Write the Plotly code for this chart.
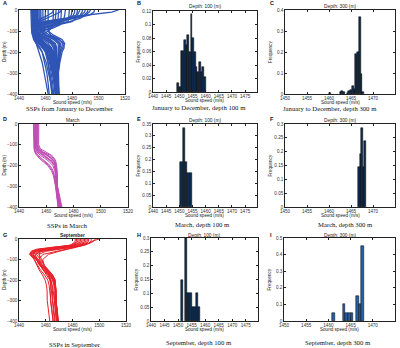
import plotly.graph_objects as go
from plotly.subplots import make_subplots

# ---------------- data ----------------
# Panel A: SSPs January-December
DEPTH_ALL = [0, -10, -25, -40, -55, -70, -85, -100, -120, -140, -160, -180, -200, -250, -300, -350, -400]
SSP_ALL_WINTER = [
    [1449.0, 1449.0, 1449.1, 1449.1, 1449.2, 1449.3, 1449.4, 1449.6, 1450.2, 1451.8, 1454.0, 1456.0, 1457.5, 1459.5, 1461.0, 1462.0, 1462.8],
    [1449.5, 1449.5, 1449.5, 1449.6, 1449.6, 1449.7, 1449.8, 1450.0, 1450.8, 1452.8, 1455.5, 1458.0, 1459.8, 1462.0, 1463.5, 1464.6, 1465.4],
    [1450.2, 1450.2, 1450.2, 1450.3, 1450.3, 1450.4, 1450.5, 1450.7, 1451.5, 1453.5, 1456.5, 1459.0, 1460.8, 1463.0, 1464.5, 1465.5, 1466.2],
    [1450.6, 1450.6, 1450.6, 1450.7, 1450.7, 1450.8, 1450.9, 1451.1, 1452.0, 1454.5, 1458.0, 1461.0, 1462.8, 1464.5, 1465.7, 1466.6, 1467.3],
    [1451.0, 1451.0, 1451.0, 1451.0, 1451.1, 1451.2, 1451.3, 1451.5, 1452.5, 1455.5, 1459.5, 1462.5, 1464.0, 1465.5, 1466.5, 1467.3, 1468.0],
    [1451.4, 1451.4, 1451.4, 1451.4, 1451.5, 1451.6, 1451.7, 1451.9, 1453.0, 1456.5, 1460.8, 1463.5, 1464.8, 1466.0, 1466.9, 1467.6, 1468.3],
    [1451.8, 1451.8, 1451.8, 1451.8, 1451.9, 1452.0, 1452.1, 1452.3, 1453.5, 1457.5, 1462.0, 1464.5, 1465.5, 1466.5, 1467.2, 1467.9, 1468.5],
    [1452.5, 1452.5, 1452.5, 1452.6, 1452.6, 1452.7, 1452.8, 1453.0, 1454.5, 1459.5, 1464.0, 1466.0, 1466.8, 1467.3, 1467.7, 1468.3, 1469.0],
    [1452.9, 1452.9, 1452.9, 1453.0, 1453.0, 1453.1, 1453.2, 1453.4, 1455.0, 1460.5, 1465.0, 1466.8, 1467.3, 1467.6, 1467.9, 1468.5, 1469.2],
    [1453.3, 1453.3, 1453.3, 1453.3, 1453.4, 1453.5, 1453.6, 1453.8, 1455.5, 1461.5, 1466.0, 1467.5, 1467.8, 1467.8, 1468.0, 1468.6, 1469.3],
    [1453.8, 1453.8, 1453.8, 1453.8, 1453.9, 1454.0, 1454.1, 1454.3, 1456.2, 1462.5, 1466.8, 1468.0, 1468.2, 1468.1, 1468.3, 1468.8, 1469.5],
    [1454.2, 1454.2, 1454.2, 1454.2, 1454.3, 1454.4, 1454.5, 1454.8, 1457.0, 1463.5, 1467.5, 1468.5, 1468.6, 1468.4, 1468.5, 1469.0, 1469.6],
    [1455.0, 1455.0, 1455.0, 1455.1, 1455.2, 1455.3, 1455.5, 1456.0, 1459.0, 1466.0, 1469.5, 1469.8, 1469.5, 1469.0, 1469.0, 1469.3, 1469.8],
    [1455.8, 1455.8, 1455.7, 1455.7, 1455.8, 1455.9, 1456.1, 1456.6, 1460.0, 1467.2, 1470.5, 1470.4, 1470.0, 1469.4, 1469.2, 1469.4, 1469.9],
    [1456.5, 1456.5, 1456.4, 1456.4, 1456.4, 1456.5, 1456.7, 1457.2, 1461.0, 1468.5, 1471.5, 1471.0, 1470.5, 1469.8, 1469.3, 1469.5, 1470.0],
    [1458.0, 1458.0, 1458.0, 1457.9, 1457.9, 1458.0, 1458.2, 1458.8, 1463.0, 1470.5, 1473.0, 1472.0, 1471.0, 1470.0, 1469.4, 1469.5, 1470.0],
    [1462.0, 1462.0, 1462.0, 1461.8, 1461.6, 1461.5, 1461.5, 1462.0, 1466.0, 1472.5, 1474.5, 1473.0, 1471.5, 1470.3, 1469.5, 1469.6, 1470.0],
    [1468.0, 1468.0, 1467.8, 1467.5, 1467.0, 1466.0, 1464.0, 1462.0, 1464.0, 1470.0, 1474.0, 1474.0, 1472.5, 1470.8, 1469.8, 1469.8, 1470.2],
    [1450.0, 1450.0, 1450.0, 1450.0, 1450.1, 1450.2, 1450.3, 1450.5, 1451.0, 1452.0, 1453.5, 1454.5, 1455.2, 1457.5, 1459.0, 1460.5, 1462.0],
    [1452.0, 1452.0, 1452.0, 1452.0, 1452.0, 1452.1, 1452.2, 1452.4, 1453.2, 1455.0, 1457.5, 1459.5, 1460.5, 1462.0, 1463.0, 1464.0, 1464.8],
]
SSP_ALL_SUMMER = [
    [1497.0, 1496.5, 1493.0, 1482.0, 1465.0, 1456.0, 1452.0, 1451.0, 1451.5, 1453.0, 1456.0, 1459.0, 1461.5, 1464.0, 1465.8, 1467.0, 1468.0],
    [1492.0, 1491.5, 1489.0, 1478.0, 1460.0, 1452.0, 1450.0, 1450.0, 1450.8, 1452.5, 1455.0, 1458.0, 1460.5, 1463.5, 1465.5, 1466.8, 1467.8],
    [1490.0, 1489.5, 1487.0, 1480.0, 1464.0, 1455.0, 1451.0, 1450.5, 1451.0, 1452.8, 1455.5, 1458.5, 1461.0, 1463.8, 1465.5, 1466.7, 1467.6],
    [1488.0, 1487.5, 1486.0, 1481.0, 1468.0, 1458.0, 1453.0, 1452.0, 1452.2, 1453.5, 1456.5, 1460.0, 1463.0, 1465.5, 1466.8, 1467.6, 1468.3],
    [1484.0, 1484.0, 1483.0, 1476.0, 1462.0, 1454.0, 1451.5, 1451.0, 1451.5, 1453.0, 1455.5, 1458.5, 1461.0, 1463.8, 1465.5, 1466.6, 1467.5],
    [1482.0, 1482.0, 1481.0, 1479.0, 1473.0, 1463.0, 1455.0, 1452.0, 1452.0, 1453.8, 1456.8, 1460.5, 1463.5, 1465.8, 1467.0, 1467.8, 1468.5],
    [1480.0, 1480.0, 1479.5, 1477.0, 1470.0, 1460.0, 1454.0, 1452.5, 1452.5, 1454.0, 1457.0, 1461.0, 1464.0, 1466.2, 1467.3, 1468.0, 1468.8],
    [1515.0, 1510.0, 1490.0, 1472.0, 1458.0, 1452.0, 1450.0, 1449.5, 1450.0, 1451.0, 1453.0, 1455.5, 1457.5, 1460.5, 1462.5, 1464.0, 1465.0],
    [1494.0, 1493.0, 1490.0, 1486.0, 1478.0, 1465.0, 1456.0, 1453.0, 1453.0, 1454.5, 1458.0, 1462.0, 1465.0, 1467.0, 1468.0, 1468.6, 1469.2],
    [1486.0, 1485.0, 1484.0, 1483.0, 1480.0, 1470.0, 1460.0, 1455.0, 1454.0, 1456.0, 1460.0, 1464.0, 1466.5, 1467.8, 1468.4, 1469.0, 1469.5],
]
SSP_ALL_SPRING_AUTUMN = [
    [1472.0, 1471.0, 1466.0, 1460.0, 1455.0, 1452.5, 1451.5, 1451.2, 1451.8, 1454.0, 1457.5, 1461.0, 1463.5, 1465.5, 1466.8, 1467.6, 1468.3],
    [1466.0, 1465.5, 1462.0, 1457.0, 1453.5, 1452.0, 1451.2, 1451.0, 1451.5, 1453.0, 1456.0, 1459.5, 1462.3, 1464.8, 1466.3, 1467.3, 1468.1],
    [1478.0, 1478.0, 1477.8, 1477.5, 1477.0, 1470.0, 1460.0, 1455.0, 1454.0, 1456.0, 1459.5, 1463.0, 1465.5, 1467.0, 1467.8, 1468.5, 1469.2],
    [1475.0, 1475.0, 1474.5, 1474.0, 1472.0, 1466.0, 1458.0, 1454.0, 1453.5, 1455.0, 1458.5, 1462.5, 1465.0, 1466.8, 1467.6, 1468.3, 1469.0],
    [1472.0, 1472.0, 1472.0, 1471.8, 1471.5, 1471.0, 1466.0, 1458.0, 1455.0, 1456.0, 1459.0, 1462.5, 1465.0, 1466.8, 1467.6, 1468.3, 1469.0],
    [1470.0, 1470.0, 1469.8, 1469.5, 1469.0, 1468.0, 1464.0, 1457.0, 1454.5, 1455.5, 1459.0, 1462.8, 1465.2, 1466.9, 1467.7, 1468.4, 1469.1],
    [1466.0, 1466.0, 1466.0, 1466.0, 1465.8, 1465.6, 1465.0, 1462.0, 1457.0, 1456.5, 1459.0, 1462.5, 1465.0, 1466.8, 1467.7, 1468.4, 1469.1],
    [1460.0, 1460.0, 1460.0, 1460.0, 1460.0, 1459.8, 1459.5, 1459.0, 1457.0, 1457.0, 1460.0, 1463.5, 1466.0, 1467.5, 1468.2, 1468.8, 1469.4],
]

# Panel D: SSPs in March
DEPTH_MARCH = [0, -25, -50, -75, -100, -120, -135, -150, -165, -180, -200, -225, -250, -300, -350, -400]
SSP_MARCH = [
    [1450.6, 1450.6, 1450.6, 1450.6, 1450.7, 1451.0, 1451.6, 1452.8, 1454.8, 1457.5, 1461.0, 1463.8, 1465.3, 1466.8, 1467.8, 1468.6],
    [1451.2, 1451.2, 1451.1, 1451.1, 1451.1, 1451.5, 1452.3, 1454.0, 1456.5, 1459.5, 1462.8, 1465.0, 1466.0, 1467.0, 1468.0, 1468.9],
    [1451.8, 1451.8, 1451.7, 1451.7, 1451.7, 1452.2, 1453.2, 1455.5, 1458.8, 1462.0, 1464.8, 1466.2, 1466.8, 1467.2, 1468.3, 1469.3],
    [1452.0, 1452.0, 1451.9, 1451.9, 1451.9, 1452.5, 1454.0, 1457.0, 1460.5, 1463.5, 1465.8, 1466.8, 1467.2, 1467.5, 1468.6, 1469.7],
    [1452.6, 1452.6, 1452.5, 1452.5, 1452.5, 1453.2, 1455.0, 1458.5, 1462.0, 1464.5, 1466.3, 1467.0, 1467.4, 1467.6, 1468.8, 1470.0],
    [1453.0, 1453.0, 1452.9, 1452.9, 1452.9, 1453.8, 1456.0, 1460.0, 1463.3, 1465.3, 1466.7, 1467.3, 1467.6, 1467.8, 1469.0, 1470.3],
    [1453.5, 1453.5, 1453.4, 1453.4, 1453.4, 1454.3, 1457.0, 1461.2, 1464.3, 1466.0, 1467.0, 1467.5, 1467.8, 1468.0, 1469.2, 1470.6],
    [1454.0, 1454.0, 1453.9, 1453.9, 1453.9, 1455.0, 1458.0, 1462.5, 1465.2, 1466.6, 1467.4, 1467.8, 1468.0, 1468.2, 1469.5, 1471.0],
    [1454.5, 1454.5, 1454.4, 1454.4, 1454.4, 1455.8, 1459.5, 1463.8, 1466.0, 1467.0, 1467.6, 1468.0, 1468.2, 1468.3, 1469.8, 1471.5],
    [1450.9, 1450.9, 1450.9, 1450.9, 1450.9, 1451.3, 1452.0, 1453.5, 1455.8, 1458.5, 1461.8, 1464.5, 1465.8, 1467.0, 1468.2, 1469.0],
    [1452.3, 1452.3, 1452.2, 1452.2, 1452.2, 1452.8, 1454.6, 1457.8, 1461.2, 1464.0, 1466.0, 1466.9, 1467.3, 1467.5, 1468.7, 1469.8],
    [1453.2, 1453.2, 1453.2, 1453.2, 1453.2, 1454.0, 1456.5, 1460.5, 1463.8, 1465.8, 1466.9, 1467.4, 1467.7, 1467.9, 1469.1, 1470.4],
]

# Panel G: SSPs in September
DEPTH_SEPT = [0, -10, -20, -30, -40, -50, -60, -75, -100, -125, -150, -175, -200, -225, -250, -300, -350, -400]
SSP_SEPT = [
    [1497, 1496, 1493, 1486, 1470, 1456, 1450, 1448.0, 1451.4, 1453.0, 1455.0, 1457.5, 1459.5, 1460.5, 1461.0, 1461.1, 1462.0, 1463.0],
    [1494, 1494, 1492, 1489, 1480, 1462, 1452, 1449.0, 1451.4, 1453.5, 1456.0, 1459.0, 1461.5, 1462.5, 1463.0, 1463.5, 1464.5, 1465.5],
    [1492, 1492, 1491, 1488, 1478, 1465, 1455, 1450.5, 1453.0, 1455.0, 1458.0, 1461.5, 1463.5, 1464.5, 1465.0, 1465.3, 1466.0, 1467.0],
    [1490, 1490, 1489, 1485, 1472, 1458, 1451, 1448.5, 1453.0, 1455.5, 1459.0, 1462.5, 1465.0, 1466.0, 1466.4, 1466.5, 1467.2, 1468.0],
    [1488, 1488, 1487, 1483, 1468, 1455, 1450, 1449.0, 1453.0, 1456.0, 1460.0, 1463.5, 1465.8, 1466.8, 1467.3, 1467.7, 1468.2, 1468.8],
    [1486, 1486, 1485, 1481, 1465, 1453, 1449, 1448.0, 1453.0, 1455.0, 1458.5, 1462.0, 1464.0, 1465.0, 1465.5, 1466.5, 1467.0, 1468.0],
    [1485, 1485, 1484, 1482, 1476, 1466, 1457, 1452.0, 1453.8, 1456.5, 1460.5, 1464.0, 1466.0, 1467.0, 1467.4, 1467.7, 1468.3, 1469.0],
    [1483, 1483, 1482, 1479, 1470, 1460, 1453, 1450.0, 1453.8, 1455.5, 1458.0, 1461.0, 1463.0, 1463.8, 1464.2, 1464.7, 1465.5, 1466.5],
    [1482, 1482, 1481, 1478, 1467, 1457, 1452, 1451.0, 1454.6, 1457.0, 1461.0, 1464.5, 1466.5, 1467.3, 1467.6, 1467.7, 1468.3, 1469.0],
    [1491, 1491, 1490, 1487, 1482, 1475, 1467, 1458.0, 1454.6, 1456.0, 1459.5, 1463.0, 1465.5, 1466.6, 1467.0, 1467.1, 1467.8, 1468.6],
    [1489, 1489, 1488, 1486, 1481, 1470, 1460, 1455.0, 1455.4, 1457.5, 1461.5, 1465.0, 1467.0, 1467.5, 1467.6, 1467.7, 1468.4, 1469.2],
    [1487, 1487, 1486, 1484, 1477, 1465, 1456, 1453.0, 1456.2, 1458.5, 1462.0, 1465.2, 1467.0, 1467.5, 1467.6, 1467.7, 1468.5, 1469.3],
    [1484, 1484, 1483, 1480, 1473, 1462, 1456, 1455.0, 1457.0, 1459.0, 1461.0, 1462.5, 1463.5, 1463.8, 1463.8, 1463.5, 1464.5, 1465.5],
    [1500, 1495, 1493, 1489, 1483, 1476, 1470, 1462.0, 1457.8, 1458.5, 1461.0, 1464.0, 1466.3, 1467.2, 1467.6, 1467.7, 1468.6, 1469.5],
]

# Histograms (bin centre speed, relative frequency)
ALL100_SPEED = [1449.5, 1450.14, 1450.78, 1451.42, 1452.06, 1452.7, 1453.34, 1453.98, 1454.62,
                1455.26, 1455.9, 1456.54, 1457.18, 1457.82, 1458.46, 1459.1, 1459.74]
ALL100_FREQ = [0.014, 0.008, 0.061, 0.061, 0.077, 0.070, 0.085, 0.060, 0.115,
               0.080, 0.060, 0.037, 0.030, 0.045, 0.030, 0.037, 0.022]
ALL100_WIDTH = 0.64

ALL300_SPEED = [1460.2, 1462.6, 1463.0, 1463.4, 1464.2, 1464.6, 1465.0, 1465.4, 1465.8,
                1466.2, 1466.6, 1467.0, 1467.4, 1467.8]
ALL300_FREQ = [0.006, 0.008, 0.015, 0.010, 0.006, 0.012, 0.020, 0.040, 0.025,
               0.190, 0.200, 0.365, 0.095, 0.010]
ALL300_WIDTH = 0.4

MAR100_SPEED = [1450.8, 1451.7, 1452.6, 1453.5, 1454.4]
MAR100_FREQ = [0.190, 0.333, 0.190, 0.143, 0.143]
MAR100_WIDTH = 0.88

MAR300_SPEED = [1466.8, 1467.15, 1467.5, 1467.85, 1468.2]
MAR300_FREQ = [0.143, 0.190, 0.286, 0.143, 0.238]
MAR300_WIDTH = 0.35

SEP100_SPEED = [1451.4, 1453.0, 1453.8, 1454.6, 1455.4, 1456.2, 1457.0, 1457.8]
SEP100_FREQ = [0.15, 0.30, 0.10, 0.10, 0.05, 0.05, 0.10, 0.05]
SEP100_WIDTH = 0.8

SEP300_SPEED = [1461.1, 1463.5, 1464.1, 1464.7, 1465.3, 1466.5, 1467.1, 1467.7]
SEP300_FREQ = [0.05, 0.10, 0.05, 0.05, 0.05, 0.15, 0.10, 0.45]
SEP300_WIDTH = 0.6

PROFILE_XTICKS = [1440, 1460, 1480, 1500, 1520]
DEPTH_TICKS = [-400, -300, -200, -100, 0]
HIST100_XTICKS = [1440, 1445, 1450, 1455, 1460, 1465, 1470, 1475]
HIST300_XTICKS = [1450, 1455, 1460, 1465, 1470, 1475]

# ---------------- figure ----------------
W, H = 400, 348
SANS = "Liberation Sans"
SERIF = "Liberation Serif"
BLUE = "#2f55b5"
MAGENTA = "#c04db4"
RED = "#e8202a"
NAVY = "#0e2d52"
MIDBLUE = "#2461a6"

fig = make_subplots(rows=3, cols=3)

BOX = {
    (1, 1): (19, 10, 125, 94), (1, 2): (153, 11, 257, 92), (1, 3): (285, 10, 395, 94),
    (2, 1): (19, 124, 128, 207), (2, 2): (153, 124, 257, 207), (2, 3): (285, 124, 395, 207),
    (3, 1): (19, 239, 126, 321), (3, 2): (151, 238, 258, 321), (3, 3): (284, 238, 395, 321),
}


def add_profiles(profiles, depth, color, r, c, width=1):
    for p in profiles:
        fig.add_trace(go.Scatter(x=p, y=depth, mode="lines", line=dict(color=color, width=width),
                                 showlegend=False, hoverinfo="skip"), row=r, col=c)


def add_hist(speed, freq, width, color, r, c):
    fig.add_trace(go.Bar(x=speed, y=freq, width=width,
                         marker=dict(color=color, line=dict(color="black", width=0.5)),
                         showlegend=False, hoverinfo="skip"), row=r, col=c)


add_profiles(SSP_ALL_WINTER + SSP_ALL_SPRING_AUTUMN + SSP_ALL_SUMMER, DEPTH_ALL, BLUE, 1, 1, 1.3)
add_hist(ALL100_SPEED, ALL100_FREQ, ALL100_WIDTH, NAVY, 1, 2)
add_hist(ALL300_SPEED, ALL300_FREQ, ALL300_WIDTH, NAVY, 1, 3)
add_profiles(SSP_MARCH, DEPTH_MARCH, MAGENTA, 2, 1)
add_hist(MAR100_SPEED, MAR100_FREQ, MAR100_WIDTH, NAVY, 2, 2)
add_hist(MAR300_SPEED, MAR300_FREQ, MAR300_WIDTH, NAVY, 2, 3)
add_profiles(SSP_SEPT, DEPTH_SEPT, RED, 3, 1)
add_hist(SEP100_SPEED, SEP100_FREQ, SEP100_WIDTH, NAVY, 3, 2)
add_hist(SEP300_SPEED, SEP300_FREQ, SEP300_WIDTH, MIDBLUE, 3, 3)

common = dict(showline=True, linecolor="#222", linewidth=0.6, mirror="ticks", ticks="inside",
              ticklen=2, tickwidth=0.5, tickcolor="#222", showgrid=False, zeroline=False,
              automargin=False, tickfont=dict(family=SANS, size=4.6, color="#333"))

yranges = {
    (1, 2): ([0, 0.12], 0.02), (1, 3): ([0, 0.4], 0.1),
    (2, 2): ([0, 0.35], 0.05), (2, 3): ([0, 0.3], 0.05),
    (3, 2): ([0, 0.3], 0.05), (3, 3): ([0, 0.5], 0.1),
}

for (r, c), (x0, y0, x1, y1) in BOX.items():
    fig.update_xaxes(domain=[x0 / W, x1 / W], row=r, col=c, **common)
    fig.update_yaxes(domain=[1 - y1 / H, 1 - y0 / H], row=r, col=c, **common)
    if c == 1:
        fig.update_xaxes(range=[1440, 1520], tickvals=PROFILE_XTICKS, row=r, col=c)
        fig.update_yaxes(range=[-400, 0], tickvals=DEPTH_TICKS, row=r, col=c)
    else:
        if c == 2:
            fig.update_xaxes(range=[1440, 1479.5], tickvals=HIST100_XTICKS, row=r, col=c)
        else:
            fig.update_xaxes(range=[1450, 1475], tickvals=HIST300_XTICKS, row=r, col=c)
        rng, dt = yranges[(r, c)]
        fig.update_yaxes(range=rng, dtick=dt, tick0=0, row=r, col=c)

annotations = []


def ann(text, px, py, size, family=SANS, angle=0, color="#222", xanchor="center"):
    annotations.append(dict(text=text, x=px / W, y=1 - py / H, xref="paper", yref="paper",
                            showarrow=False, xanchor=xanchor, yanchor="middle", textangle=angle,
                            font=dict(family=family, size=size, color=color)))


# panel letters
for letter, (px, py) in zip("ABCDEFGHI", [(1, 3), (135, 3), (268, 3), (1, 119), (135, 119), (268, 119),
                                         (1, 235), (135, 235), (268, 235)]):
    ann("<b>%s</b>" % letter, px, py, 5.5, xanchor="left", color="#111")

# axis titles
for (r, c), (x0, y0, x1, y1) in BOX.items():
    ann("Sound speed (m/s)", (x0 + x1) / 2, y1 + 8.5, 4.6)
    ann("Depth (m)" if c == 1 else "Frequency", x0 - 15, (y0 + y1) / 2, 4.6, angle=-90)

# panel titles
ann("Depth: 100 (m)", 205, 7, 4.8)
ann("Depth: 300 (m)", 340, 6, 4.8)
ann("March", 73, 120, 4.8)
ann("Depth: 100 (m)", 205, 120, 4.8)
ann("Depth: 300 (m)", 340, 120, 4.8)
ann("<b>September</b>", 72, 235, 4.8)
ann("Depth: 100 (m)", 204, 235, 4.8)
ann("Depth: 300 (m)", 340, 235, 4.8)

# subtitles
SUB = 6.7
ann("SSPs from January to December", 70, 109, SUB, family=SERIF, color="#111")
ann("January to December, depth 100 m", 199, 107, SUB, family=SERIF, color="#111")
ann("January to December, depth 300 m", 330, 109, SUB, family=SERIF, color="#111")
ann("SSPs in March", 67, 225, SUB, family=SERIF, color="#111")
ann("March, depth 100 m", 203, 224, SUB, family=SERIF, color="#111")
ann("March, depth 300 m", 345, 224, SUB, family=SERIF, color="#111")
ann("SSPs in September", 75, 344, SUB, family=SERIF, color="#111")
ann("September, depth 100 m", 199, 342, SUB, family=SERIF, color="#111")
ann("September, depth 300 m", 338, 342, SUB, family=SERIF, color="#111")

fig.update_layout(width=W, height=H, margin=dict(l=0, r=0, t=0, b=0),
                  paper_bgcolor="white", plot_bgcolor="white", bargap=0,
                  annotations=annotations, font=dict(family=SANS, size=5))

fig.write_html("out.html", config={"displayModeBar": False},
               post_script="document.body.style.margin='0';document.body.style.overflow='hidden';")
